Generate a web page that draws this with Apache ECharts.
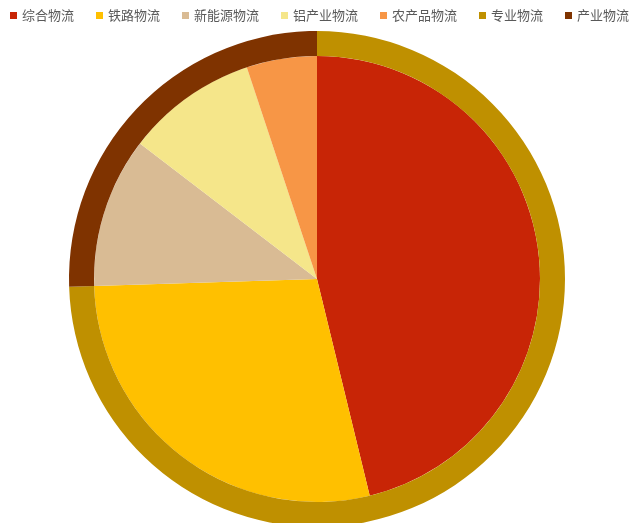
<!DOCTYPE html>
<html>
<head>
<meta charset="utf-8">
<script src="https://cdn.jsdelivr.net/npm/echarts@6/dist/echarts.min.js"></script>
<style>
html,body{margin:0;padding:0;background:#fff;}
#chart{width:629px;height:523px;}
</style>
</head>
<body>
<div id="chart"></div>
<script>
// Inner pie: business segments (share, %)
var innerNames = ['综合物流', '铁路物流', '新能源物流', '铝产业物流', '农产品物流'];
var innerValues = [46.2, 28.3, 10.9, 9.5, 5.1];
var innerColors = ['#C82506', '#FFC000', '#D9BB94', '#F5E68A', '#F79646'];

// Outer ring: segment groups (share, %)
var outerNames = ['专业物流', '产业物流'];
var outerValues = [74.5, 25.5];
var outerColors = ['#BF9000', '#7F3300'];

function toData(names, values, colors) {
  return names.map(function (n, i) {
    return { name: n, value: values[i], itemStyle: { color: colors[i] } };
  });
}

var chart = echarts.init(document.getElementById('chart'), null, { renderer: 'canvas' });
chart.setOption({
  animation: false,
  backgroundColor: '#fff',
  legend: {
    data: innerNames.concat(outerNames),
    left: 10,
    top: 9,
    width: 625,
    padding: 0,
    itemWidth: 7,
    itemHeight: 7,
    itemGap: 22,
    icon: 'rect',
    textStyle: { fontSize: 13, color: '#595959', fontFamily: 'Noto Sans CJK SC' }
  },
  series: [
    {
      type: 'pie',
      center: [317, 279],
      radius: [0, 223],
      startAngle: 90,
      clockwise: true,
      label: { show: false },
      labelLine: { show: false },
      itemStyle: { borderWidth: 0 },
      emphasis: { disabled: true },
      data: toData(innerNames, innerValues, innerColors)
    },
    {
      type: 'pie',
      center: [317, 279],
      radius: [223, 248],
      startAngle: 90,
      clockwise: true,
      label: { show: false },
      labelLine: { show: false },
      itemStyle: { borderWidth: 0 },
      emphasis: { disabled: true },
      data: toData(outerNames, outerValues, outerColors)
    }
  ]
});
</script>
</body>
</html>
